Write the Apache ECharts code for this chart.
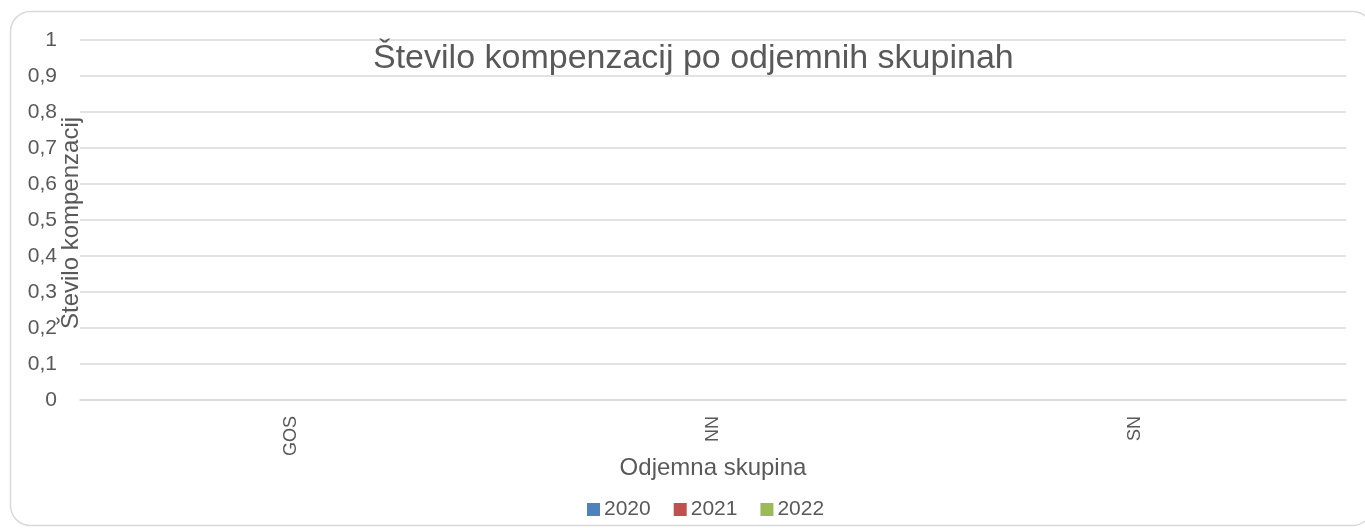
<!DOCTYPE html>
<html>
<head>
<meta charset="utf-8">
<script src="https://cdn.jsdelivr.net/npm/echarts@6/dist/echarts.min.js"></script>
<style>
  html, body { margin: 0; padding: 0; background: #fff; }
  #chart { width: 1365px; height: 528px; }
</style>
</head>
<body>
<div id="chart"></div>
<script>
// kategorije in vrednosti (vse nič)
const categories = ["GOS", "NN", "SN"];
const seriesNames = ["2020", "2021", "2022"];
const values2020 = [0, 0, 0];
const values2021 = [0, 0, 0];
const values2022 = [0, 0, 0];
const yTicks = [0, 0.1, 0.2, 0.3, 0.4, 0.5, 0.6, 0.7, 0.8, 0.9, 1];

const colors = ["#4f81bd", "#c0504d", "#9bbb59"];
const textColor = "#595959";
const gridColor = "#d9d9d9";
const font = "Liberation Sans";

const chart = echarts.init(document.getElementById("chart"));

const option = {
  animation: false,
  color: colors,
  textStyle: { fontFamily: font, color: textColor },
  graphic: [
    {
      type: "rect",
      shape: { x: 10.5, y: 11.5, width: 1362, height: 514, r: 20 },
      style: { fill: "none", stroke: gridColor, lineWidth: 1.5 },
      z: 0
    }
  ],
  title: {
    text: "Število kompenzacij po odjemnih skupinah",
    left: 368,
    top: 37,
    textStyle: { fontFamily: font, fontSize: 34, fontWeight: "normal", color: textColor }
  },
  legend: {
    data: seriesNames,
    top: 494,
    left: 582,
    itemWidth: 13,
    itemHeight: 13,
    itemGap: 23,
    icon: "rect",
    textStyle: { fontFamily: font, fontSize: 21, color: textColor, padding: [0, 0, 0, -1] }
  },
  grid: { left: 80, right: 19, top: 40, bottom: 128 },
  xAxis: {
    type: "category",
    data: categories,
    name: "Odjemna skupina",
    nameLocation: "middle",
    nameGap: 56,
    nameMoveOverlap: false,
    nameTextStyle: { fontFamily: font, fontSize: 24, color: textColor },
    axisLine: { show: true, lineStyle: { color: gridColor, width: 1.5 } },
    axisTick: { show: false },
    axisLabel: { rotate: 90, margin: 16, fontSize: 18, color: textColor, fontFamily: font }
  },
  yAxis: {
    type: "value",
    min: yTicks[0],
    max: yTicks[yTicks.length - 1],
    interval: 0.1,
    name: "Število kompenzacij",
    nameLocation: "middle",
    nameGap: -3,
    nameMoveOverlap: false,
    nameTextStyle: { fontFamily: font, fontSize: 24, color: textColor, padding: [0, 6, 0, 0] },
    axisLine: { show: false },
    axisTick: { show: false },
    splitLine: { lineStyle: { color: gridColor, width: 1.5 } },
    axisLabel: {
      margin: 23,
      fontSize: 21,
      color: textColor,
      fontFamily: font,
      formatter: v => (Math.round(v * 10) / 10).toString().replace(".", ",")
    }
  },
  series: [
    { name: seriesNames[0], type: "bar", data: values2020 },
    { name: seriesNames[1], type: "bar", data: values2021 },
    { name: seriesNames[2], type: "bar", data: values2022 }
  ]
};

chart.setOption(option);
</script>
</body>
</html>
